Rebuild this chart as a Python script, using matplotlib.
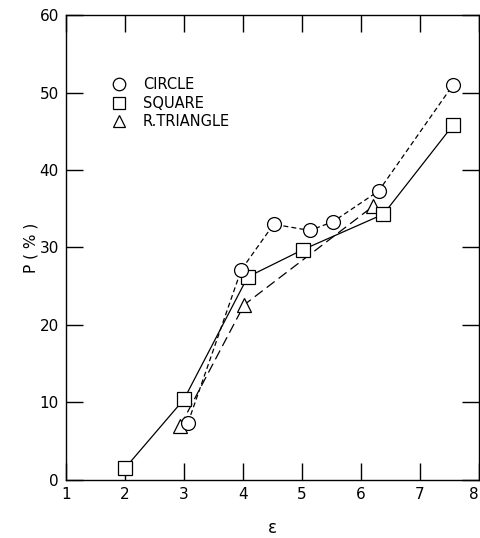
import matplotlib.pyplot as plt

# data
circle_x = [3.07, 3.97, 4.52, 5.13, 5.52, 6.3, 7.56]
circle_y = [7.4, 27.1, 33.0, 32.2, 33.3, 37.3, 51.0]

square_x = [2.0, 3.0, 4.08, 5.01, 6.38, 7.56]
square_y = [1.5, 10.4, 26.2, 29.7, 34.3, 45.8]

tri_x = [2.94, 4.02, 6.2]
tri_y = [7.0, 22.6, 35.3]

labels = ["CIRCLE", "SQUARE", "R.TRIANGLE"]

fig = plt.figure(figsize=(4.81, 5.38), dpi=100)
ax = fig.add_axes([0.137, 0.108, 0.859, 0.864])

mk = dict(markersize=10, markerfacecolor='white', markeredgecolor='black',
          markeredgewidth=0.9, color='black', linewidth=0.9)

ax.plot(circle_x, circle_y, marker='o', linestyle=(0, (4, 2.5)), zorder=3, **mk)
ax.plot(square_x, square_y, marker='s', linestyle='-', zorder=2, **mk)
ax.plot(tri_x, tri_y, marker='^', linestyle=(0, (8, 4)), zorder=1, **mk)

ax.set_xlim(1, 8)
ax.set_ylim(0, 60)
ax.set_xticks(range(1, 9))
ax.set_yticks(range(0, 61, 10))
ax.tick_params(direction='in', length=12, width=1, top=True, right=True,
               labelsize=11, pad=5)
ax.get_xticklabels()[-1].set_horizontalalignment('right')
for s in ax.spines.values():
    s.set_linewidth(1)

ax.set_xlabel("ε", fontsize=12, labelpad=12)
ax.set_ylabel("P ( % )", fontsize=11, labelpad=1)

handles = [plt.Line2D([], [], marker=m, linestyle='none', markersize=9,
                      markerfacecolor='white', markeredgecolor='black',
                      markeredgewidth=0.9) for m in ['o', 's', '^']]
ax.legend(handles, labels, loc='upper left', bbox_to_anchor=(0.08, 0.895),
          frameon=False, fontsize=10.5, handletextpad=1.1, labelspacing=0.25,
          handlelength=1.0)

fig.savefig("out.png", dpi=100)
